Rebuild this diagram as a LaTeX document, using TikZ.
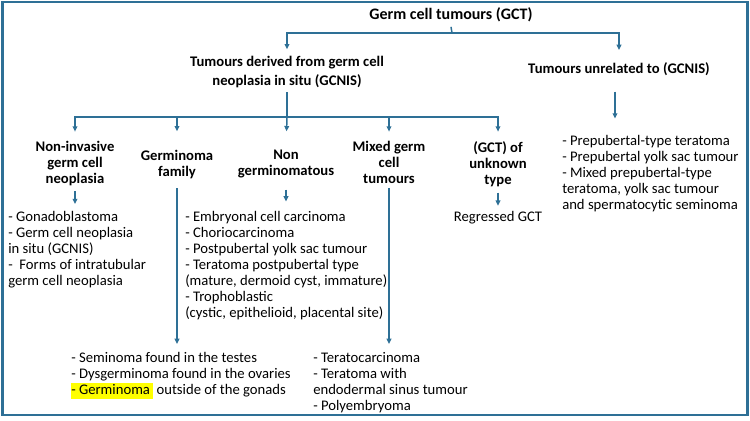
\documentclass[tikz,border=0pt]{standalone}
\usepackage{fontspec}
\setmainfont{Carlito}
\usetikzlibrary{arrows.meta}
\definecolor{fr}{RGB}{46,112,150}
\definecolor{hly}{RGB}{255,255,0}
\begin{document}
\begin{tikzpicture}[x=0.75pt,y=-0.75pt,
  ttl/.style={font=\fontsize{11}{12}\selectfont\bfseries, align=center, inner sep=0pt, anchor=north},
  lst/.style={font=\fontsize{11}{12}\selectfont, align=left, inner sep=0pt, anchor=north west},
  conn/.style={draw=fr, line width=1.1pt},
  arr/.style={conn, -{Triangle[length=4pt,width=3.5pt]}}]
\useasboundingbox (0,0) rectangle (750,421);
\draw[fr, line width=1.6pt] (2.5,2) rectangle (747.5,415);

% titles
\node[ttl, font=\fontsize{12}{12}\selectfont\bfseries] (gct) at (451,7) {Germ cell tumours (GCT)};
\node[ttl, font=\fontsize{11}{14.3}\selectfont\bfseries] (gcnis) at (287,56) {Tumours derived from germ cell\\neoplasia in situ (GCNIS)};
\node[ttl] (unrel) at (619,62) {Tumours unrelated to (GCNIS)};

\node[ttl] (noninv) at (75,141) {Non-invasive\\germ cell\\neoplasia};
\node[ttl] (germfam) at (177,150) {Germinoma\\family};
\node[ttl] (nongerm) at (286,150) {Non\\germinomatous};
\node[ttl] (mixed) at (389,141) {Mixed germ\\cell\\tumours};
\node[ttl] (unk) at (498,141) {(GCT) of\\unknown\\type};

% lists
\node[lst] (lni) at (8,211) {- Gonadoblastoma\\- Germ cell neoplasia\\in situ (GCNIS)\\-\ \ Forms of intratubular\\germ cell neoplasia};
\node[lst] (lng) at (185,211) {- Embryonal cell carcinoma\\- Choriocarcinoma\\- Postpubertal yolk sac tumour\\- Teratoma postpubertal type\\(mature, dermoid cyst, immature)\\- Trophoblastic\\(cystic, epithelioid, placental site)};
\node[lst, anchor=north] (reg) at (498,211) {Regressed GCT};
\node[lst] (lu) at (562,135) {- Prepubertal-type teratoma\\- Prepubertal yolk sac tumour\\- Mixed prepubertal-type\\teratoma, yolk sac tumour\\and spermatocytic seminoma};
\node[lst] (lg) at (71,352) {- Seminoma found in the testes\\- Dysgerminoma found in the ovaries\\{\setlength{\fboxsep}{0pt}\colorbox{hly}{\strut- Germinoma\ }}\ outside of the gonads};
\node[lst] (lm) at (313,352) {- Teratocarcinoma\\- Teratoma with\\endodermal sinus tumour\\- Polyembryoma};

% connectors
\coordinate (j1) at (452,33);
\coordinate (j2) at (287,117);
\draw[conn] (gct.south) ++(0,5) -- (j1);
\draw[arr, shorten >=5pt] (j1) -| (gcnis.north);
\draw[arr, shorten >=9pt] (j1) -| (unrel.north);
\draw[conn] (gcnis.south) ++(0,4) -- (j2);
\draw[arr, shorten >=7pt] (j2) -| (noninv.north);
\draw[arr, shorten >=14pt] (j2) -| (germfam.north);
\draw[arr, shorten >=14pt] (j2) -- (nongerm.north);
\draw[arr, shorten >=7pt] (j2) -| (mixed.north);
\draw[arr, shorten >=7pt] (j2) -| (unk.north);
\draw[arr] ([xshift=-3pt]unrel.south) ++(0,16) -- ++(0,27);

\draw[arr] (noninv.south) ++(0,5) -- ++(0,13);
\draw[arr] (nongerm.south) ++(0,11) -- ++(0,12);
\draw[arr] (unk.south) ++(0,6) -- ++(0,13);
\draw[arr, shorten >=6pt] (germfam.south) ++(0,9) -- (germfam.south |- lg.north);
\draw[arr, shorten >=6pt] (mixed.south) ++(0,4) -- (mixed.south |- lm.north);
\end{tikzpicture}
\end{document}
